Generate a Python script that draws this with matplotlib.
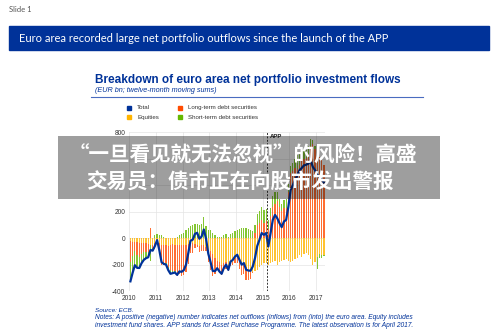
import numpy as np
import matplotlib.pyplot as plt
from matplotlib.patches import Rectangle

# monthly data, Jan 2010 - Apr 2017 (EUR bn, twelve-month moving sums)
total = [-327, -262, -205, -225, -226, -190, -165, -152, -145, -90, -95, -60,
         -15, -92, -182, -195, -200, -242, -270, -265, -260, -278, -252, -255,
         -242, -200, -115, -20, -12, 32, 40, -5, 12, 65, -5, -118,
         -180, -248, -250, -228, -252, -270, -226, -200, -240, -178, -165, -140,
         -126, -164, -201, -189, -239, -245, -247, -214, -151, -60, -13, 38,
         25, 38, -63, 38, 138, 175, 150, 113, 83, 125, 138, 238,
         363, 400, 438, 475, 513, 530, 550, 555, 563, 588, 538, 513,
         480, 460, 440, 420]
equities = [-25, -30, -30, -30, -35, -35, -40, -40, -45, -50, -50, -40,
            -30, -40, -50, -50, -55, -60, -50, -45, -50, -55, -50, -55,
            -55, -50, -45, -50, -40, -45, -50, -60, -55, -50, -70, -90,
            -100, -120, -150, -170, -180, -200, -190, -180, -200, -190, -180, -150,
            -140, -170, -200, -200, -220, -240, -250, -260, -250, -240, -220, -200,
            -190, -185, -200, -190, -180, -170, -200, -180, -175, -165, -160, -170,
            -180, -170, -160, -150, -130, -140, -120, -110, -130, -160, -200, -180,
            -140, -120, -130, -125]
long_term = [-152, -102, -65, -95, -111, -85, -65, -62, -60, 80, -25, -40,
             -15, -77, -152, -155, -135, -162, -190, -200, -200, -233, -222, -230,
             -227, -210, -150, -60, -72, -33, -15, -45, -43, -45, -25, -88,
             -140, -168, -120, -68, -82, -80, -56, -50, -50, -18, -25, -40,
             -46, -64, -76, -69, -99, -75, -57, -4, 39, 100, 117, 138,
             115, 133, 67, 168, 238, 255, 280, 233, 208, 230, 228, 348,
             493, 510, 528, 525, 553, 590, 600, 605, 633, 698, 708, 673,
             710, 610, 590, 555]
short_term = [-150, -130, -110, -100, -80, -70, -60, -50, -40, -120, -20, 20,
              30, 25, 20, 10, -10, -20, -30, -20, -10, 10, 20, 30,
              40, 60, 80, 90, 100, 110, 105, 100, 110, 160, 90, 60,
              60, 40, 20, 10, 10, 10, 20, 30, 10, 30, 40, 50,
              60, 70, 75, 80, 80, 70, 60, 50, 60, 80, 90, 100,
              100, 90, 70, 60, 80, 90, 70, 60, 50, 60, 70, 60,
              50, 60, 70, 100, 90, 80, 70, 60, 60, 50, 30, 20,
              -90, -30, -20, -10]
years = [2010, 2011, 2012, 2013, 2014, 2015, 2016, 2017]
yticks = [-400, -200, 0, 200, 400, 600, 800]
ytick_labels = ['-400', '-200', '0', '200', '', '', '800']  # 400/600 sit under the grey banner
app_date = 2015.17

blue = '#003299'
c_lt = '#FF4B00'
c_eq = '#FFB400'
c_st = '#65B800'

x = 2010 + (np.arange(len(total)) + 0.5) / 12

fig = plt.figure(figsize=(5, 3.35), dpi=100)
W, H = 500, 335

def fx(px):
    return px / W

def fy(py):
    return 1 - py / H

fig.text(fx(9), fy(9), 'Slide 1', fontsize=5.5, color='#555555', va='center', family='Lato')
fig.patches.append(Rectangle((fx(9), fy(50)), fx(480), 24 / H, transform=fig.transFigure,
                             color=blue, zorder=0))
fig.text(fx(19), fy(38), 'Euro area recorded large net portfolio outflows since the launch of the APP',
         fontsize=8.0, color='white', va='center', family='Lato')

# chart title block
fig.text(fx(95), fy(80), 'Breakdown of euro area net portfolio investment flows', fontsize=8.5,
         fontweight='bold', color=blue, va='center', family='Liberation Sans')
fig.text(fx(95), fy(90.5), '(EUR bn; twelve-month moving sums)', fontsize=5.2, style='italic',
         color=blue, va='center', family='Liberation Sans')
fig.add_artist(plt.Line2D([fx(91), fx(423)], [fy(96.7), fy(96.7)], color='#4a6cc0', lw=0.8))

# legend
leg = [(129, 107.7, blue, 'Total'), (129, 117.3, c_eq, 'Equities'),
       (180, 107.7, c_lt, 'Long-term debt securities'), (180, 117.3, c_st, 'Short-term debt securities')]
for px, py, col, lab in leg:
    fig.patches.append(Rectangle((fx(px - 2), fy(py + 2)), 4 / W, 4 / H, transform=fig.transFigure, color=col))
    fig.text(fx(px + 8), fy(py), lab, fontsize=4.4, color='#333333', va='center', family='Liberation Sans')

ax = fig.add_axes([fx(129.3), fy(291), (325 - 129.3) / W, (291 - 132.3) / H])

pos = lambda a: np.clip(np.array(a, dtype=float), 0, None)
neg = lambda a: np.clip(np.array(a, dtype=float), None, 0)
bw = 0.55 / 12
ba = 0.8

# positive stack: long-term, then short-term
ax.bar(x, pos(long_term), width=bw, color=c_lt, lw=0, alpha=ba)
ax.bar(x, pos(short_term), width=bw, bottom=pos(long_term), color=c_st, lw=0, alpha=ba)
# negative stack: equities, long-term, short-term
ax.bar(x, neg(equities), width=bw, color=c_eq, lw=0, alpha=ba)
ax.bar(x, neg(long_term), width=bw, bottom=neg(equities), color=c_lt, lw=0, alpha=ba)
ax.bar(x, neg(short_term), width=bw, bottom=neg(equities) + neg(long_term), color=c_st, lw=0, alpha=ba)

ax.plot(x, total, color=blue, lw=1.6, zorder=5)

ax.axvline(app_date, color='#333333', lw=0.7, ls=(0, (2, 1.5)), zorder=6)
ax.text(app_date + 0.08, 790, 'APP', fontsize=4.3, fontweight='bold', color='#222222',
        va='top', family='Liberation Sans')

ax.set_xlim(2010, 2017.33)
ax.set_ylim(-400, 800)
ax.set_xticks(years)
ax.set_yticks(yticks)
ax.set_yticklabels(ytick_labels)
ax.tick_params(length=0, labelsize=4.8, colors='#333333', pad=3)
for lab in ax.get_xticklabels() + ax.get_yticklabels():
    lab.set_family('Liberation Sans')
ax.grid(True, color='#e4e4e4', lw=0.5)
ax.set_axisbelow(True)
for s in ax.spines.values():
    s.set_visible(False)

# notes
fig.text(fx(95), fy(310), 'Source: ECB.', fontsize=4.6, style='italic', color=blue, va='center',
         family='Liberation Sans')
fig.text(fx(95), fy(317.7), 'Notes: A positive (negative) number indicates net outflows (inflows) from (into) '
         'the euro area. Equity includes', fontsize=4.75, style='italic', color=blue, va='center',
         family='Liberation Sans')
fig.text(fx(95), fy(325.3), 'investment fund shares. APP stands for Asset Purchase Programme. '
         'The latest observation is for April 2017.', fontsize=4.75, style='italic', color=blue,
         va='center', family='Liberation Sans')

# grey overlay headline
fig.patches.append(Rectangle((fx(58), fy(199)), fx(382), 63 / H, transform=fig.transFigure,
                             color='black', alpha=0.38, lw=0, zorder=20))
cjk = ['Noto Sans CJK SC', 'DejaVu Sans']
fig.text(fx(243), fy(154), '“一旦看见就无法忽视”的风险！高盛', fontsize=14.8, fontweight='bold',
         color='white', ha='center', va='center', family=cjk, zorder=21)
fig.text(fx(240), fy(182), '交易员：债市正在向股市发出警报', fontsize=14.8, fontweight='bold',
         color='white', ha='center', va='center', family=cjk, zorder=21)

fig.savefig('out.png', dpi=100)
